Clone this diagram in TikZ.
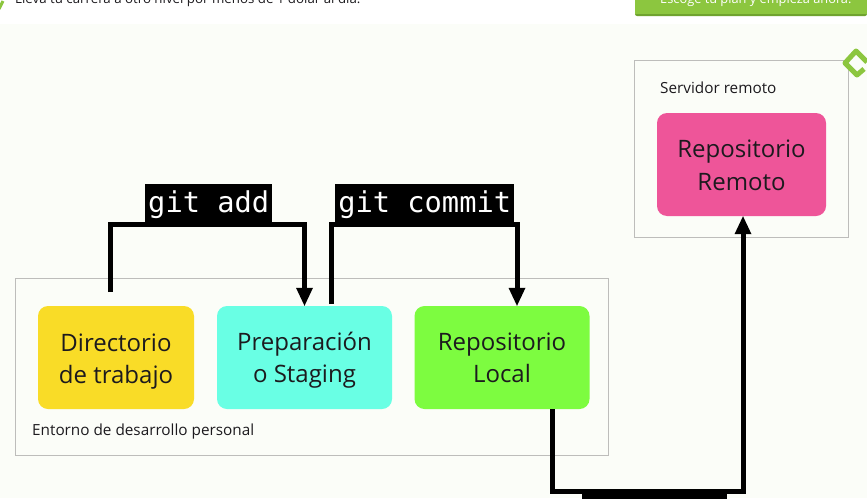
\documentclass[tikz,border=0pt]{standalone}
\usepackage{fontspec}
\setmainfont{Open Sans}
\setmonofont{DejaVu Sans Mono}
\usetikzlibrary{arrows.meta}
\definecolor{bgc}{HTML}{FBFDF8}
\definecolor{framec}{HTML}{BDBDBB}
\definecolor{txtc}{HTML}{1C1A1E}
\definecolor{yellowc}{HTML}{F9DC27}
\definecolor{cyanc}{HTML}{69FFE4}
\definecolor{limec}{HTML}{7DFC40}
\definecolor{pinkc}{HTML}{EE5599}
\definecolor{btnc}{HTML}{8CC63F}
\definecolor{btndk}{HTML}{6FA32F}
\tikzset{
  x=1pt,y=-1pt,
  framebox/.style={draw=framec,line width=0.8pt,fill=none},
  repo/.style={rounded corners=10pt,minimum height=103pt,inner sep=0pt},
  repotext/.style={inner sep=0pt,align=center,text=txtc,font=\fontsize{24}{#1}\selectfont},
  cmd/.style={fill=black,text=white,inner sep=0pt,minimum height=40pt,anchor=north west,
    font=\ttfamily\fontsize{28.7}{30}\selectfont},
  framecap/.style={text=txtc,anchor=west,inner sep=0pt,font=\fontsize{15.3}{17}\selectfont},
  link/.style={draw=black,line width=5pt,line join=miter},
  linkarrow/.style={link,-{Triangle[length=18pt,width=17pt,line width=0pt]}},
}
\begin{document}
\begin{tikzpicture}
\useasboundingbox (0,0) rectangle (867,498);
\begin{scope}
\clip (0,0) rectangle (867,498);
\fill[white] (0,0) rectangle (867,498);
\fill[bgc] (0,24) rectangle (867,498);
% top strip
\node[anchor=west,inner sep=0pt,text=txtc,font=\fontsize{13.3}{15}\selectfont] (promo) at (15,0) {Lleva tu carrera a otro nivel por menos de 1 dólar al día.};
\fill[btndk,rounded corners=2pt] (635,-5) rectangle (867,16);
\fill[btnc] (635,-5) rectangle (867,14);
\node[anchor=west,inner sep=0pt,text=white,font=\fontsize{12.8}{15}\selectfont] (btn) at (660,0) {Escoge tu plan y empieza ahora.};
% frames
\node[framebox,minimum width=593pt,minimum height=177pt,inner sep=0pt,anchor=north west] (env) at (15,277.7) {};
\node[framebox,minimum width=214pt,minimum height=177pt,inner sep=0pt,anchor=north west] (srv) at (633.8,60) {};
\node[framecap] (envcap) at (32,432) {Entorno de desarrollo personal};
\node[framecap] (srvcap) at (660,88) {Servidor remoto};
% boxes
\node[repo,fill=yellowc,minimum width=156pt] (dir) at (116,357.5) {};
\node[repo,fill=cyanc,minimum width=175pt] (prep) at (304.5,357.5) {};
\node[repo,fill=limec,minimum width=175pt] (loc) at (502,357.5) {};
\node[repo,fill=pinkc,minimum width=169pt] (rem) at (741.5,164.5) {};
\node[repotext=32] (dirtext) at (116,362) {Directorio\\de trabajo};
\node[repotext=32] (preptext) at (304.5,360.5) {Preparación\\o Staging};
\node[repotext=32] (loctext) at (502,357.5) {Repositorio\\Local};
\node[repotext=33.5] (remtext) at (741.5,165.5) {Repositorio\\Remoto};
% labels
\node[cmd,minimum width=127pt] (add) at (145,184) {git add};
\node[cmd,minimum width=179pt] (commit) at (335,184) {git commit};
\node[fill=black,inner sep=0pt,minimum width=145pt,minimum height=10pt,anchor=north west] (push) at (582,490) {};
% connectors
\coordinate (addstart) at (110.5,292);
\coordinate (commitstart) at (331.5,304);
\coordinate (addtop) at (110.5,224);
\coordinate (committop) at (331.5,224);
\coordinate (locx) at (517,224);
\coordinate (pushl) at (552,491);
\coordinate (pushr) at (743,491);
\draw[linkarrow] (addstart) -- (addtop) -| (prep.north);
\draw[linkarrow] (commitstart) -- (committop) -- (locx) -- (locx |- loc.north);
\draw[linkarrow] (pushl |- loc.south) -- (pushl) -- (pushr) -- (pushr |- rem.south);
% corner marks
\draw[btnc,line width=5pt,line join=round] (864,69) -- (857,75) -- (845,63) -- (856,51) -- (867,62);
\draw[btnc,line width=3pt] (-1,9) -- (3,1);
\end{scope}
\end{tikzpicture}
\end{document}
